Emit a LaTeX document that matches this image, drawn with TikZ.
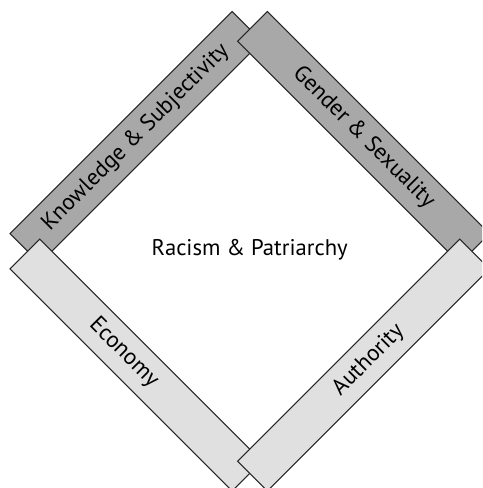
\documentclass[tikz,border=0pt]{standalone}
\usepackage{fontspec}
\setmainfont{PT Sans}
\begin{document}
\begin{tikzpicture}[bar/.style={draw=black!85,line width=0.6pt,minimum width=6.28cm,minimum height=0.84cm,inner sep=0pt},
  darkbar/.style={bar,fill=black!34}, lightbar/.style={bar,fill=black!12},
  lbl/.style={inner sep=0pt,font=\fontsize{13}{15}\selectfont}]
\clip (-4.995,-4.735) rectangle (4.645,5.025);
% the four bars, later ones lie on top
\node[darkbar,rotate=45] (know) at (135:3.22) {}; \node[darkbar,rotate=-45] (gend) at (45:3.22) {};
\node[lightbar,rotate=-45] (econ) at (225:3.22) {}; \node[lightbar,rotate=45] (auth) at (-45:3.22) {};
\node[lbl,rotate=45] (knowtxt) at (know) {Knowledge \& Subjectivity};
\node[lbl,rotate=-45] (gendtxt) at (gend) {Gender \& Sexuality};
\node[lbl,rotate=-45] (econtxt) at ([shift={(135:0.345)}]econ) {Economy};
\node[lbl,rotate=45] (authtxt) at ([shift={(45:0.14)}]auth) {Authority};
\node[inner sep=0pt,font=\fontsize{12.9}{15}\selectfont] (core) at (0,0.02) {Racism \& Patriarchy};
\end{tikzpicture}
\end{document}
